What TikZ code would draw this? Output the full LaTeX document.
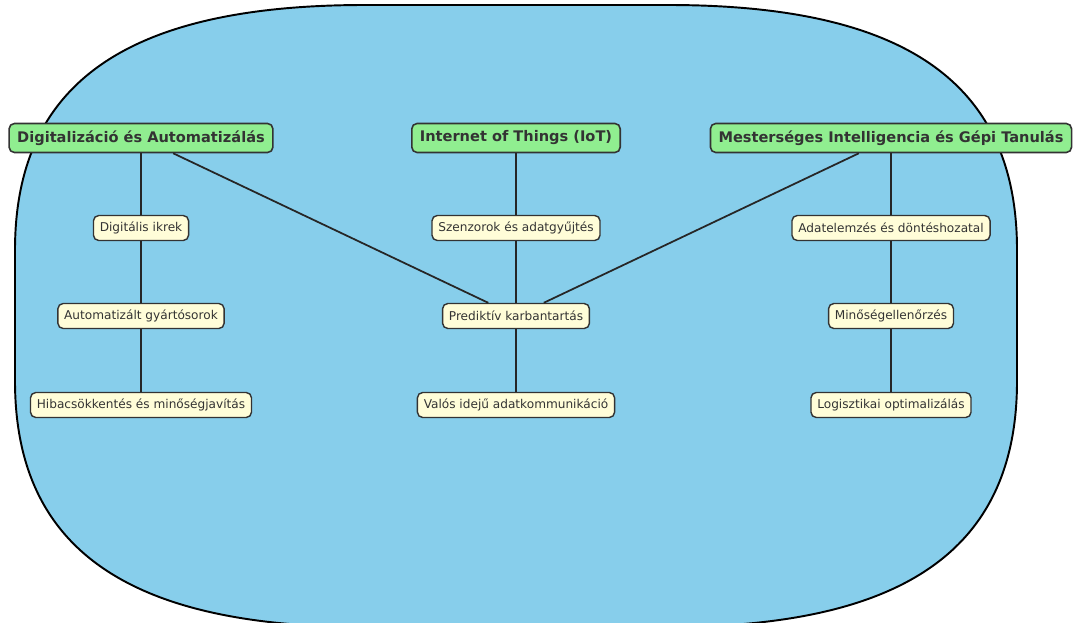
\documentclass[tikz,border=0pt]{standalone}
\usepackage{fontspec}
\setsansfont{DejaVu Sans}
\definecolor{mapsky}{HTML}{87CEEB}
\definecolor{mapgreen}{HTML}{90EE90}
\definecolor{mapcream}{HTML}{FFFDD8}
\definecolor{mapink}{HTML}{333333}

\begin{document}
\begin{tikzpicture}[
    x=0.02cm,
    y=-0.02cm,
    font=\sffamily,
    topic/.style={
        draw=mapink,
        fill=mapgreen,
        rounded corners=3pt,
        line width=0.9pt,
        text=mapink,
        font=\sffamily\bfseries\fontsize{8.3}{10}\selectfont,
        inner xsep=4.6pt,
        minimum height=0.58cm
    },
    item/.style={
        draw=mapink,
        fill=mapcream,
        rounded corners=3pt,
        line width=0.8pt,
        text=mapink,
        font=\sffamily\fontsize{6.9}{8}\selectfont,
        inner xsep=3.6pt,
        minimum height=0.5cm
    },
    link/.style={line width=1pt,draw=black!85}
]
\useasboundingbox (0,0) rectangle (1077,622);

% Background blob
\draw[fill=mapsky,line width=1.1pt]
    (365,5) -- (668,5)
    .. controls (906,5) and (1017,83) .. (1017,250) -- (1017,381)
    .. controls (1017,548) and (906,627) .. (668,627) -- (365,627)
    .. controls (127,627) and (15,548) .. (15,381) -- (15,250)
    .. controls (15,83) and (127,5) .. (365,5) -- cycle;

% Main topics
\node[topic] (digi) at (141,138) {Digitalizáció és Automatizálás};
\node[topic] (iot) at (516,138) {Internet of Things (IoT)};
\node[topic] (mesint) at (891,138) {Mesterséges Intelligencia és Gépi Tanulás};

% Digitalization column
\node[item] (ikrek) at (141,228) {Digitális ikrek};
\node[item] (gyarto) at (141,316) {Automatizált gyártósorok};
\node[item] (hiba) at (141,405) {Hibacsökkentés és minőségjavítás};

% IoT column
\node[item] (szenzor) at (516,228) {Szenzorok és adatgyűjtés};
\node[item] (predikt) at (516,316) {Prediktív karbantartás};
\node[item] (valos) at (516,405) {Valós idejű adatkommunikáció};

% AI column
\node[item] (adatelem) at (891,228) {Adatelemzés és döntéshozatal};
\node[item] (minoseg) at (891,316) {Minőségellenőrzés};
\node[item] (logiszt) at (891,405) {Logisztikai optimalizálás};

% Links
\draw[link] (digi) -- (ikrek);
\draw[link] (ikrek) -- (gyarto);
\draw[link] (gyarto) -- (hiba);
\draw[link] (iot) -- (szenzor);
\draw[link] (szenzor) -- (predikt);
\draw[link] (predikt) -- (valos);
\draw[link] (mesint) -- (adatelem);
\draw[link] (adatelem) -- (minoseg);
\draw[link] (minoseg) -- (logiszt);

% Shared link to predictive maintenance
\draw[link] (digi) -- (predikt);
\draw[link] (mesint) -- (predikt);

\end{tikzpicture}
\end{document}
